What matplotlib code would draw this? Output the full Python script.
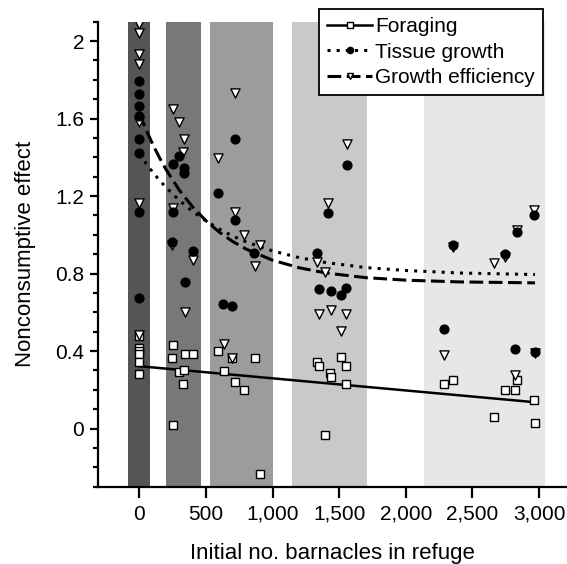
import matplotlib
matplotlib.use("Agg")
from matplotlib import pyplot as plt
from matplotlib.lines import Line2D
from matplotlib.ticker import FuncFormatter, MultipleLocator

plt.rcParams["font.family"] = ["Liberation Sans", "DejaVu Sans"]

# refuge size classes (shaded columns), initial no. barnacles
band_edges = [(-85, 80), (200, 460), (530, 1000), (1145, 1710), (2135, 3045)]
band_colors = ["#555555", "#787878", "#9c9c9c", "#c9c9c9", "#e7e7e7"]

# foraging (open squares)
forage_x = [0, 0, 0, 0, 0, 0,
            255, 245, 343, 403, 298, 335, 330, 255,
            593, 698, 868, 635, 716, 788, 905,
            1330, 1350, 1511, 1550, 1433, 1436, 1550, 1393,
            2285, 2351, 2835, 2745, 2823, 2963, 2660, 2968]
forage_y = [0.48, 0.415, 0.40, 0.385, 0.345, 0.28,
            0.43, 0.365, 0.386, 0.383, 0.292, 0.303, 0.23, 0.02,
            0.40, 0.362, 0.362, 0.296, 0.24, 0.197, -0.237,
            0.343, 0.322, 0.37, 0.322, 0.287, 0.265, 0.232, -0.033,
            0.23, 0.253, 0.253, 0.201, 0.201, 0.145, 0.059, 0.031]

# tissue growth (filled circles)
tissue_x = [0, 0, 0, 0, 0, 0, 0, 0,
            298, 255, 335, 338, 255, 245, 403, 343,
            593, 718, 718, 863, 629, 692,
            1330, 1557, 1418, 1350, 1436, 1511, 1550,
            2351, 2835, 2963, 2745, 2285, 2823, 2968]
tissue_y = [1.794, 1.725, 1.664, 1.612, 1.496, 1.422, 1.12, 0.672,
            1.409, 1.365, 1.344, 1.32, 1.12, 0.963, 0.914, 0.755,
            1.217, 1.496, 1.075, 0.907, 0.643, 0.634,
            0.905, 1.361, 1.115, 0.72, 0.712, 0.689, 0.726,
            0.945, 1.013, 1.10, 0.902, 0.513, 0.412, 0.395]

# growth efficiency (open down-triangles)
effic_x = [0, 0, 0, 0, 0, 0, 0,
           255, 298, 335, 326, 255, 245, 403, 343,
           593, 718, 718, 788, 905, 868, 635, 698,
           1557, 1418, 1330, 1393, 1350, 1436, 1550, 1511,
           2351, 2835, 2963, 2660, 2745, 2285, 2968, 2823]
effic_y = [2.088, 2.04, 1.935, 1.884, 1.583, 1.164, 0.481,
           1.647, 1.583, 1.496, 1.427, 1.14, 0.945, 0.868, 0.60,
           1.399, 1.733, 1.118, 0.997, 0.95, 0.838, 0.435, 0.365,
           1.47, 1.162, 0.862, 0.807, 0.59, 0.611, 0.59, 0.504,
           0.935, 1.023, 1.127, 0.856, 0.885, 0.378, 0.39, 0.279]

# fitted trends
forage_fit_x = [0, 2970]
forage_fit_y = [0.322, 0.136]
curve_x = [0, 50, 100, 150, 200, 300, 400, 500, 600, 700, 800, 1000,
           1200, 1400, 1700, 2000, 2400, 2970]
tissue_fit_y = [1.417, 1.369, 1.324, 1.283, 1.245, 1.178, 1.121, 1.072,
                1.030, 0.994, 0.964, 0.917, 0.882, 0.857, 0.831, 0.816,
                0.803, 0.795]
effic_fit_y = [1.627, 1.544, 1.468, 1.400, 1.338, 1.231, 1.144, 1.073,
               1.014, 0.966, 0.927, 0.869, 0.830, 0.803, 0.779, 0.766,
               0.757, 0.752]

fig = plt.figure(figsize=(5.67, 5.64), dpi=100)
ax = fig.add_axes([98 / 567, 1 - 486.7 / 564, 1 - 98 / 567, (486.7 - 21.7) / 564])

for (x0, x1), c in zip(band_edges, band_colors):
    ax.axvspan(x0, x1, color=c, lw=0, zorder=0)

dotted = (0, (1, 2))
dashed = (0, (4.5, 1.8))
ax.plot(forage_fit_x, forage_fit_y, color="black", lw=1.8, zorder=2)
ax.plot(curve_x, tissue_fit_y, color="black", lw=2.2, linestyle=dotted, zorder=2)
ax.plot(curve_x, effic_fit_y, color="black", lw=2.2, linestyle=dashed, zorder=2)

ax.scatter(forage_x, forage_y, marker="s", s=36, facecolor="white",
           edgecolor="black", linewidth=1.0, zorder=3)
ax.scatter(effic_x, effic_y, marker="v", s=44, facecolor="white",
           edgecolor="black", linewidth=1.0, zorder=3)
ax.scatter(tissue_x, tissue_y, marker="o", s=40, color="black", zorder=4)

ax.set_xlim(-310, 3210)
ax.set_ylim(-0.3, 2.1)
ax.set_xticks([0, 500, 1000, 1500, 2000, 2500, 3000])
ax.xaxis.set_major_formatter(FuncFormatter(lambda v, p: f"{int(v):,}"))
ax.set_yticks([0, 0.4, 0.8, 1.2, 1.6, 2.0])
ax.set_yticklabels(["0", "0.4", "0.8", "1.2", "1.6", "2"])
ax.yaxis.set_minor_locator(MultipleLocator(0.1))

for side in ("top", "right"):
    ax.spines[side].set_visible(False)
for side in ("left", "bottom"):
    ax.spines[side].set_linewidth(1.6)
ax.tick_params(axis="x", which="major", length=8, width=1.6, pad=5, labelsize=15)
ax.tick_params(axis="y", which="major", length=6, width=1.6, pad=4, labelsize=15)
ax.tick_params(axis="y", which="minor", length=3.5, width=1.6)

ax.set_xlabel("Initial no. barnacles in refuge", fontsize=16, labelpad=14)
ax.set_ylabel("Nonconsumptive effect", fontsize=16, labelpad=14)

handles = [
    Line2D([], [], color="black", lw=1.8, marker="s", markersize=4.5,
           markerfacecolor="white", markeredgecolor="black", markeredgewidth=1.0),
    Line2D([], [], color="black", lw=2.2, linestyle=dotted, marker="o",
           markersize=4.5, markerfacecolor="black"),
    Line2D([], [], color="black", lw=2.2, linestyle=dashed, marker="v",
           markersize=5, markerfacecolor="white", markeredgecolor="black",
           markeredgewidth=1.0),
]
leg = ax.legend(handles, ["Foraging", "Tissue growth", "Growth efficiency"],
                loc="upper right", bbox_to_anchor=(543.3 / 567, 1 - 9 / 564),
                bbox_transform=fig.transFigure, borderaxespad=0, fontsize=15,
                handlelength=2.15, handletextpad=0.15, labelspacing=0.3,
                borderpad=0.4, fancybox=False, framealpha=1, edgecolor="black")
leg.get_frame().set_linewidth(1.3)
leg.set_zorder(5)

fig.savefig("out.png", dpi=100)
